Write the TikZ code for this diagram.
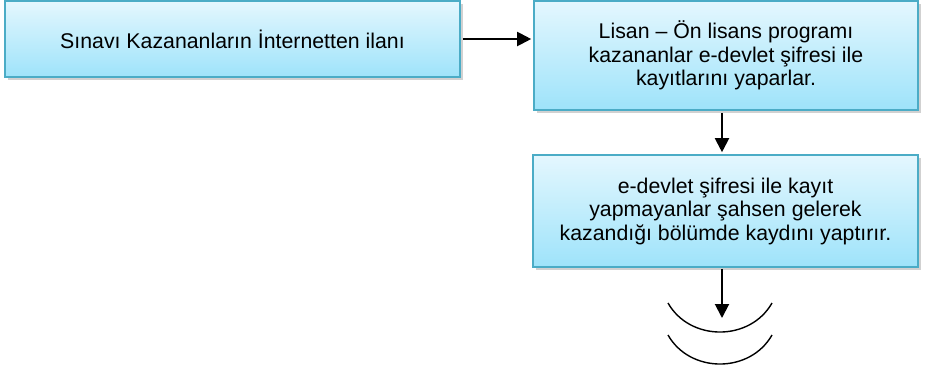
\documentclass[tikz,border=0pt]{standalone}
\usepackage{fontspec}
\setmainfont{Liberation Sans}
\usetikzlibrary{arrows.meta,shadows}
\definecolor{boxtop}{RGB}{228,247,254}
\definecolor{boxbot}{RGB}{158,227,250}
\definecolor{boxline}{RGB}{75,172,198}
\tikzset{
  flowbox/.style={draw=boxline, line width=1.6pt, top color=boxtop, bottom color=boxbot,
    align=center, font=\fontsize{21.3}{23.5}\selectfont, inner sep=0pt,
    drop shadow={shadow xshift=2.5pt, shadow yshift=-3pt, opacity=0.3, fill=black!60}},
  flowarrow/.style={line width=2pt, -{Triangle[width=14pt,length=14pt]}},
  wave/.style={line width=1.4pt, black}
}
\begin{document}
\begin{tikzpicture}[x=1pt,y=-1pt]
\useasboundingbox (0,0) rectangle (930,373);
\node[flowbox, minimum width=455pt, minimum height=76pt] (b1) at (232.5,39) {Sınavı Kazananların İnternetten ilanı};
\node[flowbox, minimum width=384pt, minimum height=109pt] (b2) at (726,55.5) {Lisan – Ön lisans programı\\kazananlar e-devlet şifresi ile\\kayıtlarını yaparlar.};
\node[flowbox, minimum width=385pt, minimum height=112pt] (b3) at (725.5,211) {e-devlet şifresi ile kayıt\\yapmayanlar şahsen gelerek\\kazandığı bölümde kaydını yaptırır.};
\coordinate (end) at (722,318);
\draw[flowarrow] (b1.east) ++(2pt,0) -- ([xshift=-2pt]b2.west |- b1.east);
\draw[flowarrow] ([yshift=-2pt]b2.south -| end) -- ([yshift=2pt]b3.north -| end);
\draw[flowarrow] ([yshift=-1pt]b3.south -| end) -- (end);
\draw[wave] (668,303) .. controls (690,341.7) and (750,341.7) .. (772,303);
\draw[wave] (668,335) .. controls (690,373.7) and (750,373.7) .. (772,335);
\end{tikzpicture}
\end{document}
